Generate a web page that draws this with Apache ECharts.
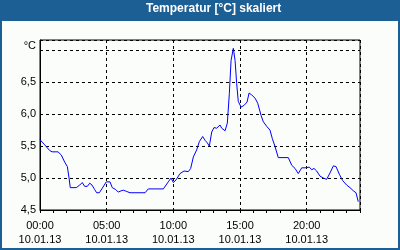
<!DOCTYPE html>
<html lang="de">
<head>
    <meta charset="UTF-8">
    <title>Temperatur</title>
    <style>
        body { margin: 0; }
        #chart { width: 400px; height: 250px; }
    </style>
</head>
<body>
<div id="chart"></div>
<script src="https://cdn.jsdelivr.net/npm/echarts@6/dist/echarts.min.js"></script>
<script>
    // Messwerte vom 10.01.13, Zeit in Stunden
    var hours = [0, 0.35, 0.73, 0.9, 1.05, 1.35, 1.6, 1.85, 2.05, 2.18, 2.27, 2.72, 2.98, 3.17, 3.35, 3.55, 3.73, 3.9,
        4.1, 4.25, 4.45, 4.73, 4.97, 5.08, 5.25, 5.42, 5.68, 5.87, 6.08, 6.25, 6.5, 6.75, 7.88, 8.12, 9.25, 9.62,
        9.83, 10.0, 10.2, 10.5, 10.8, 11.12, 11.3, 11.5, 11.75, 11.95, 12.2, 12.38, 12.55, 12.7, 12.88, 13.05,
        13.25, 13.5, 13.63, 13.75, 13.88, 14.05, 14.2, 14.33, 14.5, 14.63, 14.75, 14.87, 15.08, 15.32, 15.53,
        15.68, 15.88, 16.13, 16.33, 16.58, 16.75, 17.0, 17.25, 17.42, 17.63, 17.87, 18.62, 18.88, 19.13, 19.37,
        19.63, 19.88, 20.2, 20.38, 20.55, 20.75, 21.0, 21.25, 21.5, 21.75, 22.0, 22.2, 22.45, 22.7, 23.0, 23.25,
        23.5, 23.7, 23.87];
    var temps = [5.60, 5.52, 5.43, 5.41, 5.44, 5.41, 5.36, 5.25, 5.18, 5.00, 4.85, 4.85, 4.89, 4.93, 4.87, 4.87, 4.92, 4.89,
        4.82, 4.77, 4.77, 4.86, 4.94, 4.97, 4.94, 4.85, 4.82, 4.78, 4.80, 4.81, 4.79, 4.77, 4.77, 4.83, 4.83, 4.94,
        5.00, 4.93, 4.97, 5.07, 5.11, 5.10, 5.15, 5.33, 5.44, 5.57, 5.65, 5.59, 5.55, 5.50, 5.72, 5.79,
        5.78, 5.83, 5.78, 5.81, 5.74, 5.86, 6.32, 6.84, 7.03, 6.84, 6.48, 6.20, 6.11, 6.14, 6.19,
        6.33, 6.30, 6.25, 6.17, 5.98, 5.88, 5.81, 5.75, 5.62, 5.49, 5.32, 5.32, 5.20, 5.15, 5.07,
        5.16, 5.16, 5.17, 5.13, 5.15, 5.11, 5.03, 5.00, 4.98, 5.08, 5.19, 5.18, 5.06, 4.96, 4.89, 4.85,
        4.80, 4.77, 4.63];
    var dateLabel = '10.01.13';

    var data = hours.map(function (h, i) { return [h, temps[i]]; });
    var font = 'Liberation Sans, Arial, sans-serif';

    var myChart = echarts.init(document.getElementById('chart'));
    var option = {
        animation: false,
        backgroundColor: '#1c5f94',
        title: {
            text: 'Temperatur [°C] skaliert',
            left: 146,
            top: 3,
            padding: 0,
            textStyle: { color: '#fff', fontSize: 12, fontWeight: 'bold', fontFamily: font }
        },
        graphic: [{
            type: 'rect',
            z: -10,
            shape: { x: 2, y: 21, width: 396, height: 227 },
            style: { fill: '#fbfdfb' }
        }],
        grid: {
            left: 40, top: 40, width: 320, height: 170,
            show: true, borderColor: '#000', borderWidth: 1, backgroundColor: 'transparent'
        },
        xAxis: [{
            type: 'value',
            min: 0, max: 24, interval: 5,
            axisLine: { lineStyle: { color: '#000', width: 1 } },
            axisTick: { show: false },
            splitLine: { show: true, lineStyle: { color: '#000', type: [3, 3], width: 1 } },
            axisLabel: {
                showMaxLabel: false,
                margin: 9,
                color: '#000',
                fontSize: 11,
                fontFamily: font,
                lineHeight: 14,
                formatter: function (v) {
                    return (v < 10 ? '0' : '') + v + ':00\n' + dateLabel;
                }
            }
        }, {
            type: 'value',
            position: 'bottom',
            min: 0, max: 24, interval: 1,
            axisLine: { show: false },
            axisTick: { show: true, length: 3, lineStyle: { color: '#000' } },
            axisLabel: { show: false },
            splitLine: { show: false }
        }],
        yAxis: {
            type: 'value',
            min: 4.5, max: 7.16, interval: 0.5,
            name: '°C',
            nameLocation: 'end',
            nameGap: -11,
            nameTextStyle: { color: '#000', fontSize: 11, fontFamily: font, align: 'right', padding: [0, 4, 0, 0] },
            axisLine: { show: true, lineStyle: { color: '#000', width: 1 } },
            axisTick: { show: false },
            splitLine: { show: true, lineStyle: { color: '#000', type: [3, 3], width: 1 } },
            axisLabel: {
                margin: 4,
                showMaxLabel: false,
                color: '#000',
                fontSize: 11,
                fontFamily: font,
                formatter: function (v) {
                    if (v > 6.9) return '';
                    return v.toFixed(1).replace('.', ',');
                }
            }
        },
        series: [{
            type: 'line',
            data: data,
            showSymbol: false,
            lineStyle: { color: '#0000ff', width: 1 },
            itemStyle: { color: '#0000ff' }
        }]
    };
    myChart.setOption(option);
</script>
</body>
</html>
